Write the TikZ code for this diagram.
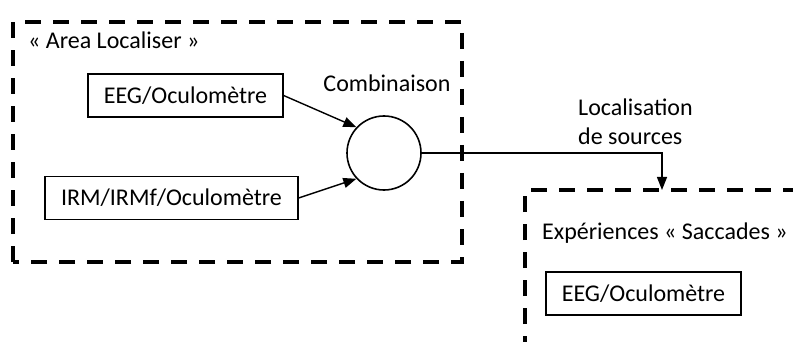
\documentclass[tikz,border=0pt]{standalone}
\usepackage{fontspec}
\setmainfont{Carlito}
\usetikzlibrary{arrows.meta}
\begin{document}
\begin{tikzpicture}[x=1pt,y=-1pt,
  every node/.style={font=\fontsize{24}{29}\selectfont, inner sep=0pt},
  grp/.style={line width=4pt, dash pattern=on 16pt off 12pt},
  box/.style={draw, line width=1.3pt, minimum width=#1, minimum height=43pt},
  arr/.style={line width=1.4pt, -{Triangle[length=13pt,width=10pt]}},
  lbl/.style={anchor=west}]
\useasboundingbox (0,0) rectangle (793,342);
% groups
\draw[grp] (13,262) -- (13,22) -- (462,22) -- (462,262) -- cycle;
\draw[grp] (525,352) -- (525,190) -- (805,190);
% nodes
\node[lbl] (t1) at (28,40) {« Area Localiser »};
\node (comb) at (387,83) {Combinaison};
\node[box=195pt] (b1) at (185.5,95.5) {EEG/Oculomètre};
\node[box=253pt] (b2) at (171.5,198) {IRM/IRMf/Oculomètre};
\node[draw, circle, line width=1.6pt, minimum size=74pt] (c) at (384,153) {};
\node[lbl, align=left] (loc) at (578,122) {Localisation\\de sources};
\node[lbl] (t2) at (542,233) {Expériences « Saccades »};
\node[box=195pt] (b3) at (643.5,293.5) {EEG/Oculomètre};
\coordinate (tgt) at (662,190);
% connectors
\draw[arr] (b1.east) -- (c.137);
\draw[arr] (b2.east) -- (c.223);
\draw[arr] (c.east) -| (tgt);
\end{tikzpicture}
\end{document}
